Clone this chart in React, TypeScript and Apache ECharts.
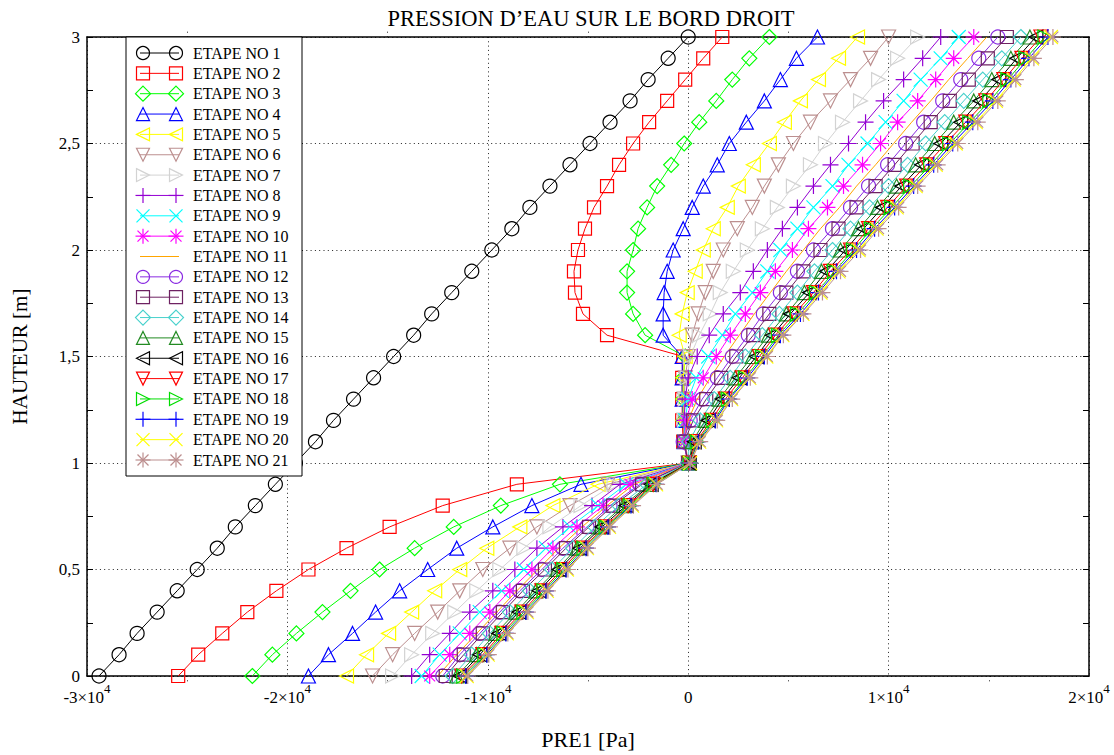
import React, { useEffect, useRef } from 'react';
import * as echarts from 'echarts';

const HEIGHTS = [0, 0.1, 0.2, 0.3, 0.4, 0.5, 0.6, 0.7, 0.8, 0.9, 1, 1.1, 1.2, 1.3, 1.4, 1.5, 1.6, 1.7, 1.8, 1.9, 2, 2.1, 2.2, 2.3, 2.4, 2.5, 2.6, 2.7, 2.8, 2.9, 3];

const ETAPE_01 = [-29400, -28400, -27500, -26500, -25500, -24500, -23500, -22600, -21600, -20600, -19600, -18600, -17700, -16700, -15700, -14700, -13700, -12800, -11800, -10800, -9800, -8800, -7900, -6900, -5900, -4900, -3900, -2900, -2000, -1000, 0];
const ETAPE_02 = [-25450, -24450, -23250, -22000, -20550, -18950, -17050, -14900, -12250, -8550, 0, -250, -300, -300, -300, -250, -4050, -5250, -5650, -5700, -5500, -5150, -4700, -4050, -3450, -2750, -1950, -1050, -150, 750, 1700];
const ETAPE_03 = [-21750, -20750, -19550, -18250, -16850, -15400, -13650, -11700, -9350, -6400, 0, -200, -250, -250, -250, -150, -2150, -2750, -3050, -3050, -2750, -2500, -2050, -1550, -850, -200, 550, 1400, 2200, 3050, 4050];
const ETAPE_04 = [-18950, -17950, -16750, -15600, -14400, -13000, -11550, -9750, -7800, -5350, 0, -200, -250, -300, -300, -300, -1250, -1250, -1200, -1050, -750, -250, 200, 750, 1450, 2050, 2900, 3800, 4600, 5400, 6450];
const ETAPE_05 = [-17050, -16050, -14950, -13800, -12650, -11400, -10050, -8400, -6750, -4500, 0, -200, -250, -250, -250, -150, -450, -300, -50, 350, 750, 1250, 1950, 2500, 3250, 4050, 4800, 5600, 6500, 7500, 8450];
const ETAPE_06 = [-15750, -14750, -13650, -12500, -11400, -10250, -8900, -7550, -5900, -4000, 0, -150, -200, -200, -150, 0, 200, 500, 850, 1250, 1750, 2450, 3200, 3800, 4500, 5250, 6100, 7100, 8100, 9100, 10000];
const ETAPE_07 = [-14750, -13800, -12750, -11650, -10550, -9400, -8200, -6900, -5350, -3700, 0, -150, -200, -150, -50, 100, 550, 1100, 1600, 2250, 2950, 3700, 4450, 5250, 6100, 6850, 7700, 8600, 9500, 10450, 11450];
const ETAPE_08 = [-13800, -12900, -11900, -10900, -9750, -8650, -7550, -6250, -4800, -3400, 0, -200, -200, -150, 0, 450, 1050, 1750, 2600, 3250, 3950, 4700, 5450, 6250, 7100, 8000, 8850, 9750, 10750, 11700, 12600];
const ETAPE_09 = [-13300, -12400, -11400, -10400, -9300, -8200, -7100, -5900, -4500, -3100, 0, -200, -150, 0, 400, 1000, 1700, 2350, 3200, 3950, 4600, 5450, 6250, 7200, 8000, 8950, 9850, 10750, 11600, 12600, 13500];
const ETAPE_10 = [-12900, -11900, -10900, -9900, -8900, -7800, -6750, -5550, -4250, -2900, 0, -200, -100, 200, 750, 1400, 2100, 2850, 3600, 4350, 5200, 6000, 6950, 7750, 8700, 9600, 10450, 11450, 12350, 13250, 14250];
const ETAPE_11 = [-12500, -11550, -10550, -9550, -8550, -7500, -6450, -5300, -4050, -2700, 0, -200, 0, 450, 1100, 1800, 2550, 3300, 4100, 4900, 5750, 6600, 7550, 8400, 9350, 10250, 11150, 12100, 13000, 13950, 14900];
const ETAPE_12 = [-12250, -11400, -10400, -9400, -8400, -7300, -6250, -5050, -3900, -2400, 0, -250, 100, 700, 1450, 2200, 3000, 3750, 4600, 5450, 6250, 7200, 8100, 9000, 9950, 10850, 11750, 12700, 13600, 14500, 15450];
const ETAPE_13 = [-12100, -11200, -10250, -9250, -8250, -7150, -6100, -4950, -3750, -2300, 0, -200, 250, 900, 1650, 2400, 3250, 4050, 4900, 5750, 6600, 7500, 8400, 9350, 10300, 11200, 12100, 13050, 14000, 14950, 15900];
const ETAPE_14 = [-11750, -10800, -9900, -8900, -7900, -6800, -5750, -4650, -3450, -2050, 0, 50, 600, 1300, 2100, 2850, 3700, 4550, 5450, 6300, 7200, 8100, 9050, 10000, 10950, 11850, 12800, 13750, 14700, 15650, 16600];
const ETAPE_15 = [-11550, -10550, -9600, -8600, -7600, -6550, -5550, -4400, -3250, -1900, 50, 200, 850, 1550, 2350, 3200, 4000, 4900, 5800, 6650, 7600, 8500, 9450, 10400, 11350, 12300, 13250, 14250, 15150, 16100, 17050];
const ETAPE_16 = [-11400, -10400, -9450, -8450, -7450, -6450, -5400, -4300, -3100, -1850, 50, 300, 1000, 1700, 2550, 3400, 4200, 5100, 6050, 6900, 7850, 8750, 9700, 10650, 11650, 12600, 13600, 14550, 15500, 16400, 17350];
const ETAPE_17 = [-11300, -10250, -9300, -8300, -7300, -6300, -5300, -4150, -3000, -1750, 50, 400, 1150, 1850, 2700, 3550, 4350, 5300, 6250, 7100, 8100, 9000, 9950, 10900, 11900, 12850, 13850, 14850, 15750, 16650, 17600];
const ETAPE_18 = [-11200, -10150, -9200, -8200, -7200, -6200, -5200, -4100, -2900, -1700, 100, 450, 1250, 2000, 2850, 3700, 4500, 5450, 6400, 7300, 8250, 9150, 10150, 11100, 12100, 13050, 14050, 15050, 15950, 16850, 17800];
const ETAPE_19 = [-11100, -10050, -9100, -8100, -7100, -6100, -5100, -4000, -2850, -1600, 100, 500, 1350, 2050, 2950, 3800, 4600, 5600, 6500, 7400, 8400, 9300, 10300, 11250, 12250, 13200, 14200, 15200, 16100, 17000, 17950];
const ETAPE_20 = [-11050, -10000, -9050, -8050, -7050, -6050, -5050, -3950, -2800, -1600, 100, 550, 1400, 2150, 3050, 3900, 4700, 5700, 6600, 7500, 8500, 9400, 10400, 11350, 12350, 13350, 14350, 15350, 16250, 17150, 18100];
const ETAPE_21 = [-11000, -9950, -9000, -8000, -7000, -6000, -5000, -3900, -2750, -1550, 100, 600, 1450, 2200, 3100, 3950, 4750, 5750, 6700, 7600, 8600, 9500, 10500, 11450, 12450, 13450, 14450, 15450, 16350, 17250, 18200];

const SERIES_VALUES = [ETAPE_01, ETAPE_02, ETAPE_03, ETAPE_04, ETAPE_05, ETAPE_06, ETAPE_07, ETAPE_08, ETAPE_09, ETAPE_10, ETAPE_11, ETAPE_12, ETAPE_13, ETAPE_14, ETAPE_15, ETAPE_16, ETAPE_17, ETAPE_18, ETAPE_19, ETAPE_20, ETAPE_21];
const SERIES_NAMES = SERIES_VALUES.map((_, i) => `ETAPE NO ${i + 1}`);

const TITLE = 'PRESSION D\u2019EAU SUR LE BORD DROIT';
const X_NAME = 'PRE1 [Pa]';
const Y_NAME = 'HAUTEUR [m]';

const FONT = 'Liberation Serif';

type Kind = 'circle' | 'square' | 'diamond' | 'up' | 'down' | 'left' | 'right' | 'plus' | 'cross' | 'star' | 'none';

const STYLES: { color: string; kind: Kind }[] = [
  { color: '#000000', kind: 'circle' },
  { color: '#FF0000', kind: 'square' },
  { color: '#00FF00', kind: 'diamond' },
  { color: '#0000FF', kind: 'up' },
  { color: '#FFFF00', kind: 'left' },
  { color: '#BC8F8F', kind: 'down' },
  { color: '#D3D3D3', kind: 'right' },
  { color: '#9400D3', kind: 'plus' },
  { color: '#00FFFF', kind: 'cross' },
  { color: '#FF00FF', kind: 'star' },
  { color: '#FFA500', kind: 'none' },
  { color: '#8A2BE2', kind: 'circle' },
  { color: '#6E2262', kind: 'square' },
  { color: '#48D1CC', kind: 'diamond' },
  { color: '#228B22', kind: 'up' },
  { color: '#000000', kind: 'left' },
  { color: '#FF0000', kind: 'down' },
  { color: '#00DD00', kind: 'right' },
  { color: '#0000FF', kind: 'plus' },
  { color: '#FFFF00', kind: 'cross' },
  { color: '#BC8F8F', kind: 'star' },
];

const SYMBOLS: Record<string, string> = {
  circle: 'circle',
  square: 'rect',
  diamond: 'diamond',
  up: 'path://M5,0L10,10L0,10Z',
  down: 'path://M0,0L10,0L5,10Z',
  left: 'path://M0,5L10,0L10,10Z',
  right: 'path://M0,0L10,5L0,10Z',
  plus: 'path://M5,0L5,10M0,5L10,5',
  cross: 'path://M0,0L10,10M10,0L0,10',
  star: 'path://M5,0L5,10M0,5L10,5M1.6,1.6L8.4,8.4M8.4,1.6L1.6,8.4',
};

const SIZES: Record<string, number> = {
  circle: 14, square: 13, diamond: 15, up: 14, down: 14, left: 14, right: 14, plus: 16, cross: 14, star: 16,
};

function legendMarker(kind: Kind, cx: number, cy: number, color: string): any[] {
  const s = 6.5;
  const style = { fill: 'none', stroke: color, lineWidth: 1.2 };
  const z = 102;
  const line = (x1: number, y1: number, x2: number, y2: number) => ({
    type: 'line', z, shape: { x1, y1, x2, y2 }, style: { stroke: color, lineWidth: 1.2 },
  });
  const poly = (pts: number[][]) => ({ type: 'polygon', z, shape: { points: pts }, style });
  switch (kind) {
    case 'circle':
      return [{ type: 'circle', z, shape: { cx, cy, r: s }, style }];
    case 'square':
      return [{ type: 'rect', z, shape: { x: cx - s, y: cy - s, width: 2 * s, height: 2 * s }, style }];
    case 'diamond':
      return [poly([[cx, cy - s - 1], [cx + s + 1, cy], [cx, cy + s + 1], [cx - s - 1, cy]])];
    case 'up':
      return [poly([[cx, cy - s], [cx + s, cy + s], [cx - s, cy + s]])];
    case 'down':
      return [poly([[cx - s, cy - s], [cx + s, cy - s], [cx, cy + s]])];
    case 'left':
      return [poly([[cx - s, cy], [cx + s, cy - s], [cx + s, cy + s]])];
    case 'right':
      return [poly([[cx - s, cy - s], [cx + s, cy], [cx - s, cy + s]])];
    case 'plus':
      return [line(cx, cy - s - 1, cx, cy + s + 1), line(cx - s - 1, cy, cx + s + 1, cy)];
    case 'cross':
      return [line(cx - s, cy - s, cx + s, cy + s), line(cx + s, cy - s, cx - s, cy + s)];
    case 'star':
      return [
        line(cx, cy - s - 1, cx, cy + s + 1), line(cx - s - 1, cy, cx + s + 1, cy),
        line(cx - s + 1, cy - s + 1, cx + s - 1, cy + s - 1), line(cx + s - 1, cy - s + 1, cx - s + 1, cy + s - 1),
      ];
    default:
      return [];
  }
}

function buildLegend(): any[] {
  const els: any[] = [];
  els.push({
    type: 'rect', z: 100,
    shape: { x: 126, y: 37, width: 176, height: 439 },
    style: { fill: '#ffffff', stroke: '#000000', lineWidth: 1 },
  });
  SERIES_NAMES.forEach((name, i) => {
    const y = 53 + i * 20.35;
    const { color, kind } = STYLES[i];
    els.push({ type: 'line', z: 101, shape: { x1: 140, y1: y, x2: 179, y2: y }, style: { stroke: color, lineWidth: 1 } });
    els.push(...legendMarker(kind, 143, y, color));
    els.push(...legendMarker(kind, 176, y, color));
    els.push({
      type: 'text', z: 101, x: 193, y,
      style: {
        text: name, fontSize: 16, fontFamily: FONT, fill: '#000000',
        verticalAlign: 'middle', textVerticalAlign: 'middle',
      },
    });
  });
  return els;
}

function xLabel(v: number): string {
  if (v === 0) return '{m|0}';
  return `{m|${v / 10000}\u00d710}{s|4}`;
}

export default function App() {
  const ref = useRef<HTMLDivElement>(null);
  useEffect(() => {
    if (!ref.current) return;
    const chart = echarts.init(ref.current, null, { renderer: 'svg' });
    const dotted = { color: '#222222', type: [1, 3.3] as any, width: 1 };
    const axisLine = { show: true, onZero: false, lineStyle: { color: '#000000', width: 1.5 } };
    const series = SERIES_VALUES.map((vals, i) => {
      const { color, kind } = STYLES[i];
      return {
        type: 'line',
        name: SERIES_NAMES[i],
        data: HEIGHTS.map((h, j) => [vals[j], h]),
        symbol: kind === 'none' ? 'none' : SYMBOLS[kind],
        showSymbol: kind !== 'none',
        symbolSize: kind === 'none' ? 0 : SIZES[kind],
        lineStyle: { color, width: 1 },
        itemStyle: { color: 'rgba(0,0,0,0)', borderColor: color, borderWidth: 1.2 },
        emphasis: { disabled: true },
        clip: false,
        z: 2 + i * 0.01,
      };
    });
    chart.setOption({
      animation: false,
      backgroundColor: '#ffffff',
      title: {
        text: TITLE,
        left: 586,
        top: 2,
        textAlign: 'center',
        textStyle: { fontFamily: FONT, fontSize: 22.5, fontWeight: 'normal', color: '#000000' },
      },
      grid: { left: 87, right: 25, top: 37, bottom: 78, containLabel: false },
      xAxis: [
        {
          type: 'value', position: 'bottom', min: -30000, max: 20000, interval: 10000,
          axisLine,
          axisTick: { show: false },
          minorTick: { show: true, splitNumber: 2, length: 6, lineStyle: dotted },
          splitLine: { show: true, lineStyle: dotted },
          axisLabel: {
            margin: 6,
            fontFamily: FONT, fontSize: 17, color: '#000000',
            formatter: xLabel,
            rich: {
              m: { fontFamily: FONT, fontSize: 17, color: '#000000', lineHeight: 30 },
              s: { fontFamily: FONT, fontSize: 13, color: '#000000', lineHeight: 13, verticalAlign: 'top' },
            },
          },
          name: X_NAME, nameLocation: 'middle', nameGap: 52,
          nameTextStyle: { fontFamily: FONT, fontSize: 22, color: '#000000' },
        },
        {
          type: 'value', position: 'top', min: -30000, max: 20000, interval: 10000,
          axisLine,
          axisTick: { show: false },
          minorTick: { show: true, splitNumber: 2, length: 6, lineStyle: dotted },
          splitLine: { show: false },
          axisLabel: { show: false },
        },
      ],
      yAxis: [
        {
          type: 'value', position: 'left', min: 0, max: 3, interval: 0.5,
          axisLine,
          axisTick: { show: true, inside: true, length: 6, lineStyle: { color: '#000000' } },
          minorTick: { show: true, splitNumber: 2, length: 6, lineStyle: { color: '#000000' } },
          splitLine: { show: true, lineStyle: dotted },
          axisLabel: {
            margin: 7,
            fontFamily: FONT, fontSize: 17, color: '#000000',
            formatter: (v: number) => String(v).replace('.', ','),
          },
          name: Y_NAME, nameLocation: 'middle', nameGap: 57, nameRotate: 90,
          nameTextStyle: { fontFamily: FONT, fontSize: 21, color: '#000000' },
        },
        {
          type: 'value', position: 'right', min: 0, max: 3, interval: 0.5,
          axisLine,
          axisTick: { show: true, inside: true, length: 6, lineStyle: { color: '#000000' } },
          minorTick: { show: true, splitNumber: 2, length: 6, lineStyle: { color: '#000000' } },
          splitLine: { show: false },
          axisLabel: { show: false },
        },
      ],
      graphic: buildLegend(),
      series,
    });
    return () => chart.dispose();
  }, []);
  return (
    <div
      ref={ref}
      style={{ position: 'absolute', left: 0, top: 0, width: 1114, height: 755, background: '#ffffff' }}
    />
  );
}
